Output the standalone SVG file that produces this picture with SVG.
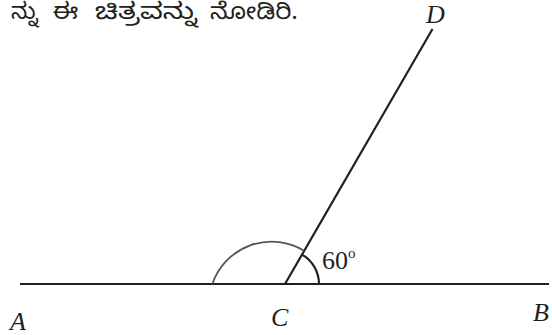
<svg xmlns="http://www.w3.org/2000/svg" width="552" height="335" viewBox="0 0 552 335">
<style>
.ln{stroke:#231f20;stroke-width:2.2;fill:none;stroke-linecap:butt}
.lbl{font-family:"Liberation Serif","Times New Roman",serif;font-style:italic;font-size:26px;fill:#231f20}
.num{font-family:"Liberation Serif","Times New Roman",serif;font-size:26px;fill:#231f20}
.kn{font-family:"Noto Sans Kannada","Noto Serif Kannada","Noto Sans",sans-serif;font-size:23px;fill:#231f20}
</style>
<rect width="552" height="335" fill="#ffffff"/>
<g id="caption">
<text class="kn" x="11" y="19" textLength="27" lengthAdjust="spacingAndGlyphs">ನ್ನು</text>
<text class="kn" x="53" y="19" textLength="25" lengthAdjust="spacingAndGlyphs">ಈ</text>
<text class="kn" x="95" y="19" textLength="102" lengthAdjust="spacingAndGlyphs">ಚಿತ್ರವನ್ನು</text>
<text class="kn" x="210" y="19" textLength="88" lengthAdjust="spacingAndGlyphs">ನೋಡಿರಿ.</text>
</g>
<g id="connectors">
<line class="ln" x1="20" y1="284" x2="549" y2="284"/>
<line class="ln" x1="285" y1="284" x2="432.5" y2="29"/>
<path d="M212.3 284 A62.7 62.7 0 0 1 304.2 250.7" fill="none" stroke="#555555" stroke-width="1.8"/>
<path class="ln" d="M302 254.6 A34 34 0 0 1 319 284"/>
</g>
<g id="A"><text class="lbl" x="10" y="330">A</text></g>
<g id="C"><text class="lbl" x="271" y="326">C</text></g>
<g id="B"><text class="lbl" x="533" y="321">B</text></g>
<g id="D"><text class="lbl" x="426" y="23">D</text></g>
<g id="angle"><text class="num" x="322" y="269">60<tspan font-size="15" dy="-11">o</tspan></text></g>
</svg>
